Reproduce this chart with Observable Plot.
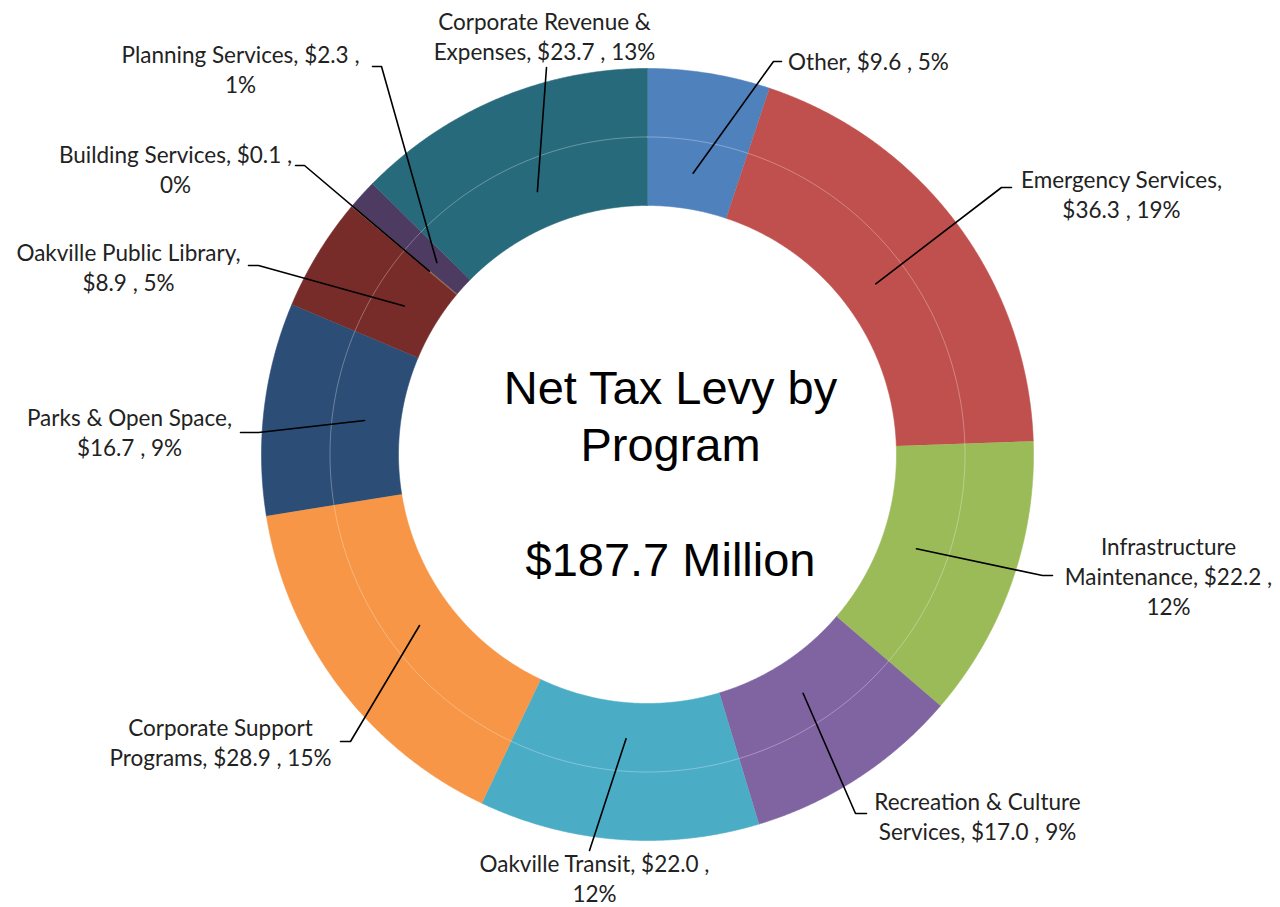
<!DOCTYPE html>
<html><head><meta charset="utf-8">
<script src="https://cdn.jsdelivr.net/npm/d3@7"></script>
<script src="https://cdn.jsdelivr.net/npm/@observablehq/plot@0.6"></script>
<style>html,body{margin:0;padding:0;background:#fff;overflow:hidden}</style>
</head><body><div id="chart"></div>
<script>
// ---- data ----
const programs = ["Other","Emergency Services","Infrastructure Maintenance","Recreation & Culture Services","Oakville Transit","Corporate Support Programs","Parks & Open Space","Oakville Public Library","Building Services","Planning Services","Corporate Revenue & Expenses"];
const levy = [9.6, 36.3, 22.2, 17.0, 22.0, 28.9, 16.7, 8.9, 0.1, 2.3, 23.7];
const colors = ["#4F81BD","#C0504D","#9BBB59","#8064A2","#4BACC6","#F79646","#2C4D75","#772C2A","#8A6A3A","#4D3B62","#276A7C"];
const titleLines = ["Net Tax Levy by","Program","","$187.7 Million"];

// ---- layout (label placement) ----
const lineWords = [[4],[2,3],[1,3,1],[3,4],[4,1],[2,4],[4,3],[3,3],[4,1],[4,1],[3,4]];
const labelX = [868, 1121, 1168, 977, 594, 220, 129, 128, 175, 240, 544];
const labelY = [60, 193, 575, 815, 877, 741, 431, 266, 168, 68, 35];
const tickX0 = [781, 1011, 1052, 866, 589, 340, 240, 248, 295, 372, 546];
const tickX1 = [773, 1001, 1042, 855, 589, 350, 258, 258, 304, 381, 546];
const tickY  = [61, 187, 575, 813, 850, 741, 432, 265, 165, 66, 67];

const W = 1280, H = 907, cx = 647, cy = 454, rOuter = 386, rInner = 249, rMid = (rOuter + rInner) / 2, rAnchor = 285;
const titleX = 670, titleY = 471;

const total = d3.sum(levy);
const arcs = d3.pie().sort(null).value(d => d)(levy);
const pt = (a, r) => [cx + r * Math.sin(a), cy - r * Math.cos(a)];

const slicePts = [];
arcs.forEach((a, i) => {
  const n = Math.max(2, Math.ceil((a.endAngle - a.startAngle) / 0.004));
  for (let k = 0; k <= n; k++) { const t = a.startAngle + (a.endAngle - a.startAngle) * k / n; const [x, y] = pt(t, rOuter); slicePts.push({name: programs[i], x, y}); }
  for (let k = n; k >= 0; k--) { const t = a.startAngle + (a.endAngle - a.startAngle) * k / n; const [x, y] = pt(t, rInner); slicePts.push({name: programs[i], x, y}); }
});

const ringPts = d3.range(0, 721).map(k => { const [x, y] = pt(k / 720 * 2 * Math.PI, rMid); return {x, y}; });

const leaderPts = [];
arcs.forEach((a, i) => {
  const mid = (a.startAngle + a.endAngle) / 2;
  const [ax, ay] = pt(mid, rAnchor);
  leaderPts.push({i, x: tickX0[i], y: tickY[i]}, {i, x: tickX1[i], y: tickY[i]}, {i, x: ax, y: ay});
});

const labels = programs.map((p, i) => {
  const pct = Math.round(levy[i] / total * 100);
  const tokens = `${p}, $${levy[i].toFixed(1)} , ${pct}%`.split(" ");
  const lines = []; let k = 0;
  for (const n of lineWords[i]) { lines.push(tokens.slice(k, k + n).join(" ")); k += n; }
  return {x: labelX[i], y: labelY[i], text: lines.join("\n")};
});

const chart = Plot.plot({
  width: W, height: H, margin: 0,
  x: {domain: [0, W], range: [0, W], axis: null},
  y: {domain: [0, H], range: [0, H], axis: null},
  color: {domain: programs, range: colors},
  style: {background: "#fff"},
  marks: [
    Plot.line(slicePts, {x: "x", y: "y", z: "name", fill: "name", stroke: "name", strokeWidth: 0.6, curve: "linear"}),
    Plot.line(ringPts, {x: "x", y: "y", stroke: "#fff", strokeOpacity: 0.3, strokeWidth: 1}),
    Plot.line(leaderPts, {x: "x", y: "y", z: "i", stroke: "#000", strokeWidth: 1.6}),
    Plot.text(labels, {x: "x", y: "y", text: "text", fontSize: 22.5, fontFamily: "Lato", fill: "#222", lineHeight: 1.34, lineAnchor: "middle", textAnchor: "middle"}),
    Plot.text([titleLines.join("\n")], {x: titleX, y: titleY, text: d => d, fontSize: 47, fontFamily: "Liberation Sans", fill: "#000", lineHeight: 1.225, lineAnchor: "middle", textAnchor: "middle"})
  ]
});
document.getElementById("chart").appendChild(chart);
</script>
</body></html>
